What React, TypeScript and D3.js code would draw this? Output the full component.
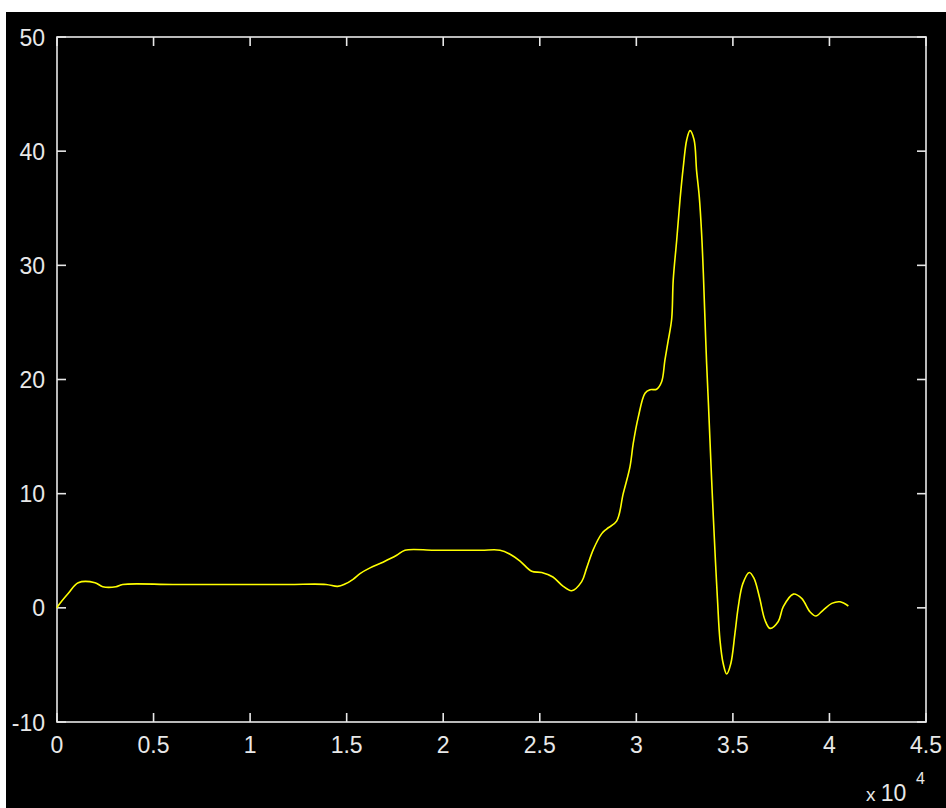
import React, { useEffect, useRef } from 'react';
import * as d3 from 'd3';

// samples (x in raw units, y value)
const xs = [0, 70, 600, 1100, 1970, 2370, 3050, 3400, 6000, 9000, 12000, 13930, 14530, 14910, 15330, 15690,
  16210, 16880, 17590, 18020, 19500, 21000, 22000, 22940, 23460, 23980, 24580, 25100, 25680, 26200, 26650,
  27170, 27430, 27770, 28210, 28460, 28980, 29320, 29670, 29840, 30100, 30450, 30710, 31050, 31310, 31480,
  31650, 31830, 31910, 32090, 32260, 32430, 32610, 32780, 32990, 33120, 33260, 33380, 33470, 33550, 33640,
  33730, 33810, 33900, 34000, 34100, 34200, 34330, 34500, 34680, 34890, 35110, 35280, 35510, 35850, 36090,
  36370, 36660, 36920, 37350, 37610, 38130, 38560, 38990, 39300, 39680, 40120, 40550, 40980];
const ys = [0, 0.2, 1.3, 2.2, 2.2, 1.85, 1.85, 2.05, 2.05, 2.05, 2.05, 2.05, 1.88, 2.08, 2.5, 3.0,
  3.5, 4.0, 4.6, 5.05, 5.05, 5.05, 5.05, 5.05, 4.7, 4.1, 3.2, 3.1, 2.7, 1.9, 1.5,
  2.3, 3.5, 5.1, 6.5, 6.9, 7.6, 10.0, 12.35, 14.4, 16.7, 18.8, 19.1, 19.15, 19.8, 21.7,
  23.4, 25.3, 28.7, 32.2, 35.7, 38.6, 41.0, 41.8, 41.0, 38.3, 36.0, 32.8, 29.3, 25.5, 21.4,
  18.0, 14.8, 11.2, 7.5, 4.0, 0.8, -2.8, -4.9, -5.8, -4.9, -2.2, 0.1, 2.1, 3.1, 2.6,
  0.97, -1.07, -1.8, -1.2, 0.1, 1.2, 0.83, -0.34, -0.72, -0.19, 0.39, 0.53, 0.16];
const xTicks = [0, 5000, 10000, 15000, 20000, 25000, 30000, 35000, 40000, 45000];
const xTickLabels = ['0', '0.5', '1', '1.5', '2', '2.5', '3', '3.5', '4', '4.5'];
const yTicks = [-10, 0, 10, 20, 30, 40, 50];

export default function App() {
  const ref = useRef<SVGSVGElement>(null);
  const width = 946;
  const height = 808;

  useEffect(() => {
    if (!ref.current) return;
    const svg = d3.select(ref.current);
    svg.selectAll('*').remove();

    const left = 57, right = 926, top = 37, bottom = 722;
    const fg = '#e8e8e8';
    const font = 'Liberation Sans, Arial, sans-serif';

    svg.append('rect').attr('width', width).attr('height', height).attr('fill', '#fff');
    svg.append('rect').attr('x', 6).attr('y', 12).attr('width', width - 6).attr('height', height - 12).attr('fill', '#000');

    const x = d3.scaleLinear().domain([0, 45000]).range([left, right]);
    const y = d3.scaleLinear().domain([-10, 50]).range([bottom, top]);

    // box
    svg.append('rect')
      .attr('x', left).attr('y', top).attr('width', right - left).attr('height', bottom - top)
      .attr('fill', 'none').attr('stroke', fg).attr('stroke-width', 1.6);

    const tl = 9;
    xTicks.forEach((t, i) => {
      const px = x(t);
      svg.append('line').attr('x1', px).attr('x2', px).attr('y1', bottom).attr('y2', bottom - tl)
        .attr('stroke', fg).attr('stroke-width', 1.6);
      svg.append('line').attr('x1', px).attr('x2', px).attr('y1', top).attr('y2', top + tl)
        .attr('stroke', fg).attr('stroke-width', 1.6);
      svg.append('text').attr('x', px).attr('y', bottom + 31)
        .attr('text-anchor', 'middle').attr('fill', fg)
        .style('font-family', font).style('font-size', '23px')
        .text(xTickLabels[i]);
    });

    yTicks.forEach(t => {
      const py = y(t);
      svg.append('line').attr('x1', left).attr('x2', left + tl).attr('y1', py).attr('y2', py)
        .attr('stroke', fg).attr('stroke-width', 1.6);
      svg.append('line').attr('x1', right).attr('x2', right - tl).attr('y1', py).attr('y2', py)
        .attr('stroke', fg).attr('stroke-width', 1.6);
      svg.append('text').attr('x', left - 12).attr('y', py + 8.5)
        .attr('text-anchor', 'end').attr('fill', fg)
        .style('font-family', font).style('font-size', '23px')
        .text(String(t));
    });

    // exponent label
    const ex = svg.append('text').attr('x', 866).attr('y', 801).attr('fill', fg)
      .style('font-family', font).style('font-size', '23px');
    ex.append('tspan').style('font-size', '19px').text('x ');
    ex.append('tspan').text('10');
    svg.append('text').attr('x', 916).attr('y', 784).attr('fill', fg)
      .style('font-family', font).style('font-size', '16px').text('4');

    const pts: [number, number][] = xs.map((v, i) => [v, ys[i]]);
    const line = d3.line<[number, number]>()
      .x(d => x(d[0])).y(d => y(d[1]))
      .curve(d3.curveCatmullRom.alpha(0.5));
    svg.append('path').attr('d', line(pts) || '')
      .attr('fill', 'none').attr('stroke', '#ffff00').attr('stroke-width', 1.6);
  }, []);

  return (
    <svg ref={ref} width={width} height={height}
      style={{ position: 'fixed', left: 0, top: 0, display: 'block' }} />
  );
}
